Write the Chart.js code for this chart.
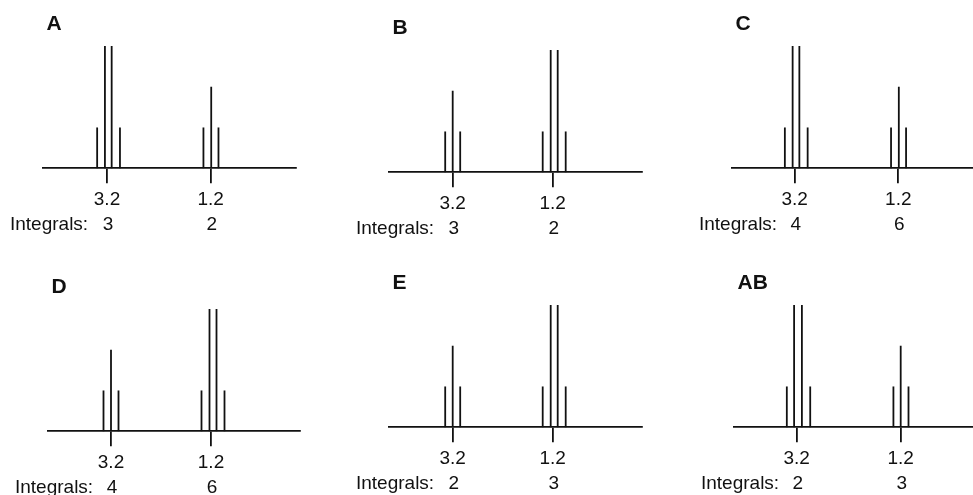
<!DOCTYPE html>
<html>
<head>
<meta charset="utf-8">
<script src="https://cdn.jsdelivr.net/npm/chart.js@4.4.1/dist/chart.umd.min.js"></script>
<style>
  html, body { margin: 0; padding: 0; background: #fff; }
  #stage { position: relative; width: 973px; height: 495px; overflow: hidden; background: #fff; }
  #stage canvas { position: absolute; }
</style>
</head>
<body>
<div id="stage"></div>
<script>
// ---------------- data ----------------
const tickValues = [3.2, 1.2];
const panelLabels = ['A', 'B', 'C', 'D', 'E', 'AB'];
const integrals = [[3, 2], [3, 2], [4, 6], [4, 6], [2, 3], [2, 3]];

// stick positions (ppm) and relative intensities for each spectrum
const shiftsA  = [3.39, 3.24, 3.11, 2.95, 1.34, 1.19, 1.05];
const heightsA = [1, 3, 3, 1, 1, 2, 1];
const shiftsB  = [3.35, 3.20, 3.05, 1.40, 1.24, 1.10, 0.94];
const heightsB = [1, 2, 1, 1, 3, 3, 1];
const shiftsC  = [3.39, 3.24, 3.11, 2.95, 1.34, 1.19, 1.05];
const heightsC = [1, 3, 3, 1, 1, 2, 1];
const shiftsD  = [3.35, 3.20, 3.05, 1.39, 1.23, 1.09, 0.93];
const heightsD = [1, 2, 1, 1, 3, 3, 1];
const shiftsE  = [3.35, 3.20, 3.05, 1.40, 1.24, 1.10, 0.94];
const heightsE = [1, 2, 1, 1, 3, 3, 1];
const shiftsAB  = [3.39, 3.25, 3.10, 2.94, 1.34, 1.20, 1.05];
const heightsAB = [1, 3, 3, 1, 1, 2, 1];

const shiftsList  = [shiftsA, shiftsB, shiftsC, shiftsD, shiftsE, shiftsAB];
const heightsList = [heightsA, heightsB, heightsC, heightsD, heightsE, heightsAB];

// ---------------- layout (page pixels) ----------------
const geom = [
  { L: 43,  R: 296, B: 168, t1: 107, t2: 210.7 },
  { L: 389, R: 642, B: 172, t1: 452.7, t2: 552.7 },
  { L: 732, R: 985, B: 168, t1: 794.7, t2: 898.3 },
  { L: 48,  R: 300, B: 431, t1: 111, t2: 211 },
  { L: 389, R: 642, B: 427, t1: 452.7, t2: 552.7 },
  { L: 734, R: 986, B: 427, t1: 796.7, t2: 900.7 }
];

const FONT = '"Liberation Sans", Arial, Helvetica, sans-serif';
const INK = '#111';
const LINE_W = 1.8;
const PAD = { left: 40, right: 4, top: 40, bottom: 30 };
const TICK_FONT = 19;
const TICK_PAD = 5;
const AXIS_H = 15 + 2 * TICK_PAD + TICK_FONT * 1.2;
const Y_MAX = 3;
const PX_PER_UNIT = 40.7;

const panelText = {
  id: 'panelText',
  afterDraw(chart, args, opts) {
    const { ctx, chartArea: ca } = chart;
    const x = chart.scales.x;
    ctx.save();
    ctx.fillStyle = INK;
    ctx.textBaseline = 'alphabetic';
    ctx.textAlign = 'left';
    ctx.font = 'bold 21px ' + FONT;
    ctx.fillText(opts.label, ca.left + 3.5, ca.bottom - 138.5);
    ctx.font = '19px ' + FONT;
    ctx.fillText('Integrals:', ca.left - 33, ca.bottom + 62);
    ctx.textAlign = 'center';
    tickValues.forEach((v, i) => {
      ctx.fillText(String(opts.integrals[i]), x.getPixelForValue(v) + 1, ca.bottom + 62);
    });
    ctx.restore();
  }
};

const stage = document.getElementById('stage');

panelLabels.forEach((label, p) => {
  const g = geom[p];
  const areaW = g.R - g.L;
  const W = areaW + PAD.left + PAD.right;
  const H = Math.round(PAD.top + Y_MAX * PX_PER_UNIT + AXIS_H + PAD.bottom);
  const ppx = (g.t2 - g.t1) / (tickValues[0] - tickValues[1]);
  const xMax = tickValues[0] + (g.t1 - g.L) / ppx;
  const xMin = xMax - areaW / ppx;

  const canvas = document.createElement('canvas');
  canvas.width = W;
  canvas.height = H;
  canvas.style.width = W + 'px';
  canvas.style.height = H + 'px';
  stage.appendChild(canvas);

  const shifts = shiftsList[p];
  const heights = heightsList[p];
  const datasets = shifts.map((s, i) => ({
    data: [{ x: s, y: 0 }, { x: s, y: heights[i] }],
    showLine: true,
    borderColor: INK,
    borderWidth: LINE_W,
    pointRadius: 0,
    pointHoverRadius: 0,
    fill: false,
    clip: false
  }));

  const chart = new Chart(canvas, {
    type: 'scatter',
    data: { datasets },
    options: {
      responsive: false,
      animation: false,
      events: [],
      layout: { padding: PAD },
      plugins: {
        legend: { display: false },
        tooltip: { enabled: false },
        title: { display: false },
        panelText: { label: label, integrals: integrals[p] }
      },
      scales: {
        x: {
          type: 'linear',
          reverse: true,
          min: xMin,
          max: xMax,
          afterBuildTicks: (scale) => { scale.ticks = tickValues.map(v => ({ value: v })); },
          ticks: {
            color: INK,
            font: { family: FONT, size: TICK_FONT },
            padding: TICK_PAD,
            maxRotation: 0,
            autoSkip: false,
            callback: (v) => Number(v).toFixed(1)
          },
          grid: {
            display: true,
            drawOnChartArea: false,
            drawTicks: true,
            tickLength: 15,
            color: INK,
            lineWidth: LINE_W
          },
          border: { display: true, color: INK, width: LINE_W }
        },
        y: {
          display: false,
          min: 0,
          max: Y_MAX
        }
      }
    },
    plugins: [panelText]
  });

  const ca = chart.chartArea;
  canvas.style.left = Math.round(g.L - ca.left) + 'px';
  canvas.style.top = Math.round(g.B - ca.bottom) + 'px';
});
</script>
</body>
</html>
